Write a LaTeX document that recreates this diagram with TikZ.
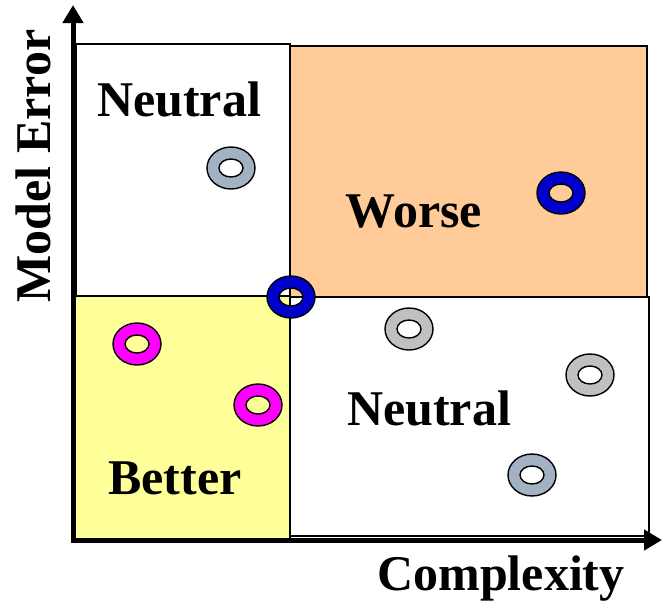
\documentclass[tikz,border=0pt]{standalone}
\usepackage{fontspec}
\setmainfont{Liberation Serif}
\usetikzlibrary{arrows.meta}
\definecolor{worsefill}{HTML}{FFCC99}
\definecolor{betterfill}{HTML}{FFFF99}
\definecolor{ringgray}{HTML}{C0C0C0}
\definecolor{ringslate}{HTML}{A3B2C3}
\definecolor{ringblue}{HTML}{0000CC}
\definecolor{ringmagenta}{HTML}{FF00FF}
\tikzset{
  quad/.style={draw=black, line width=1.5pt},
  axisline/.style={line width=5pt, -{Triangle[length=18pt,width=20pt]}},
  lbl/.style={font=\fontsize{50}{54}\selectfont\bfseries, inner sep=0pt, anchor=base},
  ring/.style={draw=black, line width=1.4pt, fill=#1, even odd rule},
}
\newcommand{\ringat}[3]{%
  \coordinate (#1) at #2;
  \path[ring=#3] (#1) ellipse [x radius=24pt, y radius=21pt]
                 (#1) ellipse [x radius=12pt, y radius=9pt];}
\begin{document}
\begin{tikzpicture}[x=1pt,y=-1pt]
\useasboundingbox (0,0) rectangle (663,603);
% quadrants
\draw[quad, fill=white] (76,44) rectangle (290,296);
\draw[quad, fill=worsefill] (290,46) rectangle (647,297);
\draw[quad, fill=betterfill] (73,296) rectangle (290,540);
\draw[quad, fill=white] (290,297) rectangle (649,536);
% axes
\coordinate (O) at (73,540);
\coordinate (Ytop) at (73,5);
\coordinate (Xend) at (662,540);
\draw[axisline] ([yshift=-2.5pt]O) -- (Ytop);
\draw[axisline] ([xshift=-2.5pt]O) -- (Xend);
% labels
\node[lbl] (ntl) at (179,116) {Neutral};
\node[lbl] (worse) at (414,227) {Worse};
\node[lbl] (better) at (175,494) {Better};
\node[lbl] (nbr) at (429,425) {Neutral};
\node[lbl] (xlab) at (501,590) {Complexity};
\node[lbl, rotate=90] (ylab) at (50,166) {Model Error};
% rings
\ringat{r1}{(231,168)}{ringslate}
\ringat{r2}{(291,297)}{ringblue}
\ringat{r3}{(561,193)}{ringblue}
\ringat{r4}{(137,344)}{ringmagenta}
\ringat{r5}{(258,405)}{ringmagenta}
\ringat{r6}{(409,329)}{ringgray}
\ringat{r7}{(590,375)}{ringgray}
\ringat{r8}{(532,475)}{ringslate}
\end{tikzpicture}
\end{document}
